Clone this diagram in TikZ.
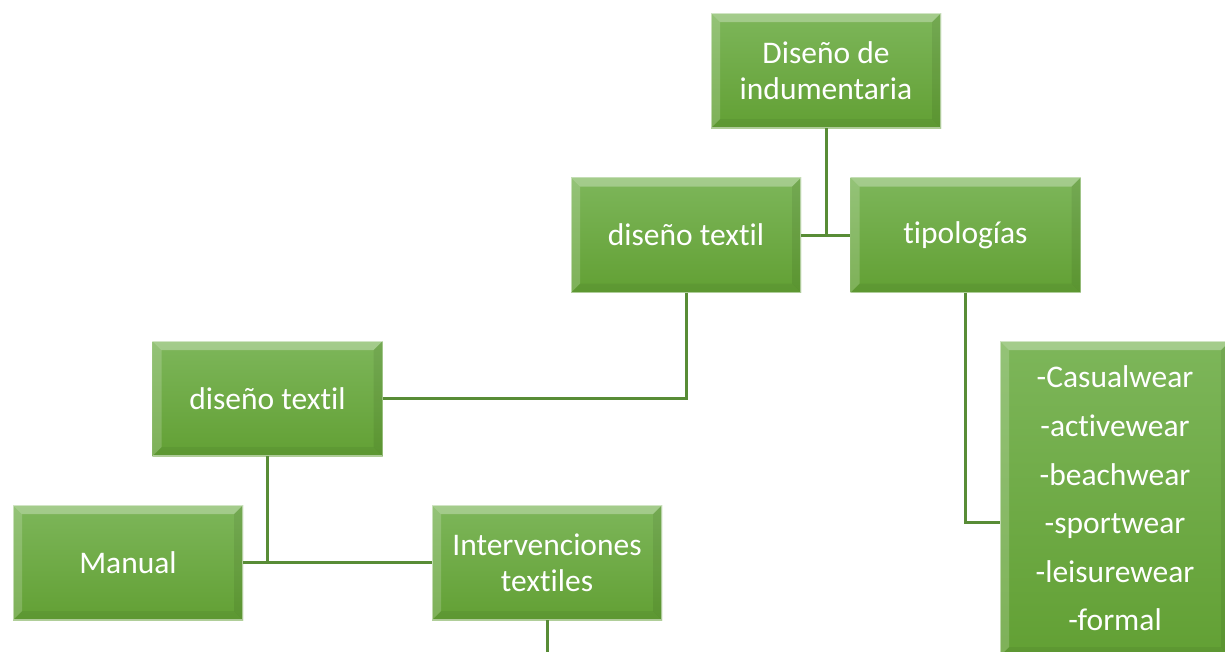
\documentclass[tikz,border=0pt]{standalone}
\usepackage{fontspec}
\setmainfont{Carlito}[Ligatures=NoCommon]
\usetikzlibrary{calc}
\definecolor{gtop}{RGB}{125,182,90}
\definecolor{gbot}{RGB}{98,160,52}
\definecolor{gline}{RGB}{88,140,54}
\tikzset{
  bevelbox/.style={rectangle, minimum width=230pt, minimum height=115pt, inner sep=0pt,
    text=white, align=center, font=\fontsize{31.5}{36}\selectfont,
    top color=gtop, bottom color=gbot,
    path picture={
      \def\b{9pt}
      \fill[white,opacity=0.30] (path picture bounding box.north west) -- (path picture bounding box.north east)
        -- ([xshift=-\b,yshift=-\b]path picture bounding box.north east) -- ([xshift=\b,yshift=-\b]path picture bounding box.north west) -- cycle;
      \fill[white,opacity=0.18] (path picture bounding box.north west) -- ([xshift=\b,yshift=-\b]path picture bounding box.north west)
        -- ([xshift=\b,yshift=\b]path picture bounding box.south west) -- (path picture bounding box.south west) -- cycle;
      \fill[black,opacity=0.07] (path picture bounding box.north east) -- ([xshift=-\b,yshift=-\b]path picture bounding box.north east)
        -- ([xshift=-\b,yshift=\b]path picture bounding box.south east) -- (path picture bounding box.south east) -- cycle;
      \fill[black,opacity=0.05] (path picture bounding box.south west) -- ([xshift=\b,yshift=\b]path picture bounding box.south west)
        -- ([xshift=-\b,yshift=\b]path picture bounding box.south east) -- (path picture bounding box.south east) -- cycle;
      \draw[white,opacity=0.5,line width=1.2pt] (path picture bounding box.south west) rectangle (path picture bounding box.north east);
    }},
  conn/.style={draw=gline, line width=3pt}
}
\begin{document}
\begin{tikzpicture}[x=1pt,y=-1pt]
\useasboundingbox (0,0) rectangle (1225,651);
\node[bevelbox] (top) at (826,70.5) {Diseño de\\indumentaria};
\node[bevelbox] (dt1) at (686,235) {diseño textil};
\node[bevelbox] (tip) at (965.5,235) {tipologías};
\node[bevelbox] (dt2) at (267.5,398.5) {diseño textil};
\node[bevelbox] (man) at (128,562.5) {Manual};
\node[bevelbox] (int) at (547,562.5) {Intervenciones\\textiles};
\node[bevelbox, minimum height=315pt, font=\fontsize{31.5}{48.6}\selectfont] (lst) at (1115,498.5)
  {-Casualwear\\-activewear\\-beachwear\\-sportwear\\-leisurewear\\-formal};
\coordinate (lj) at (1000,522);
\coordinate (iend) at (547,660);
\draw[conn] (top.south) -- (top.south |- dt1.east);
\draw[conn] (dt1.east) -- (tip.west);
\draw[conn] (dt1.south) |- (dt2.east);
\draw[conn] (tip.south) |- (lj);
\draw[conn] (dt2.south) -- (dt2.south |- man.east);
\draw[conn] (man.east) -- (int.west);
\draw[conn] (int.south) -- (iend);
\end{tikzpicture}
\end{document}
